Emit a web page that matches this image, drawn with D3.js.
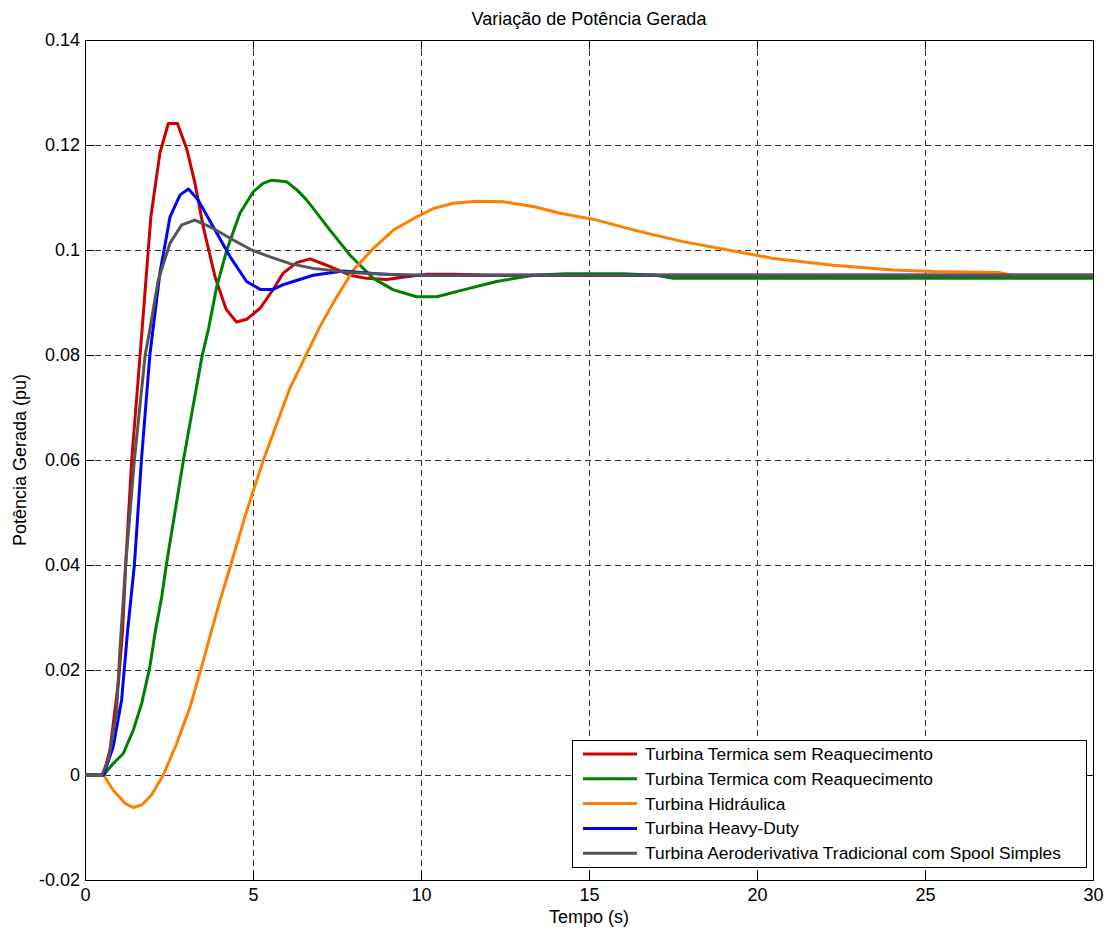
<!DOCTYPE html>
<html>
<head>
<meta charset="utf-8">
<script src="https://cdn.jsdelivr.net/npm/d3@7"></script>
<style>
  html, body { margin: 0; padding: 0; background: #fff; }
  svg { display: block; font-family: "Liberation Sans", Arial, sans-serif; }
</style>
</head>
<body>
<svg id="chart" width="1110" height="932"></svg>
<script>
// ---------- data ----------
const xTicks = [0, 5, 10, 15, 20, 25, 30];
const xTickLabels = ["0", "5", "10", "15", "20", "25", "30"];
const yTicks = [-0.02, 0, 0.02, 0.04, 0.06, 0.08, 0.1, 0.12, 0.14];
const yTickLabels = ["-0.02", "0", "0.02", "0.04", "0.06", "0.08", "0.1", "0.12", "0.14"];

const seriesNames = [
  "Turbina Termica sem Reaquecimento",
  "Turbina Termica com Reaquecimento",
  "Turbina Hidráulica",
  "Turbina Heavy-Duty",
  "Turbina Aeroderivativa Tradicional com Spool Simples"
];
const seriesColors = ["#cc0000", "#008000", "#ff8000", "#0000ff", "#555555"];

const tRed = [0,0.55,0.75,1.0,1.12,1.21,1.39,1.64,1.96,2.23,2.48,2.75,3.03,3.27,3.52,3.87,4.2,4.51,4.81,5.21,5.56,5.9,6.3,6.7,7.19,7.89,8.38,8.97,9.57,10.17,11,12,30];
const pRed = [0,0,0.005,0.018,0.0276,0.04,0.06,0.08,0.1063,0.1185,0.1241,0.1241,0.1192,0.1128,0.1044,0.0949,0.0887,0.0863,0.0868,0.0889,0.0921,0.0956,0.0976,0.0983,0.0971,0.0952,0.0946,0.0944,0.0949,0.0954,0.0954,0.0952,0.0952];

const tGreen = [0,0.55,0.84,1.14,1.44,1.69,1.93,2.1,2.28,2.42,2.93,3.49,3.67,3.92,4.22,4.61,5.01,5.3,5.56,6.0,6.3,6.6,7.0,7.29,7.89,8.58,9.18,9.87,10.47,11.26,12.25,13.34,14.33,16,17,17.5,30];
const pGreen = [0,0,0.0022,0.0041,0.0086,0.0137,0.0206,0.0276,0.0338,0.04,0.06,0.08,0.0848,0.093,0.1,0.107,0.1111,0.1127,0.1133,0.113,0.1115,0.1095,0.1062,0.1038,0.099,0.0946,0.0924,0.0911,0.0911,0.0924,0.094,0.0952,0.0955,0.0955,0.0952,0.0946,0.0946];

const tOrange = [0,0.55,0.84,1.19,1.44,1.69,1.98,2.33,2.73,3.13,3.47,3.77,4.02,4.34,4.76,5.31,6.1,6.58,7.0,7.44,7.99,8.58,9.18,9.87,10.37,10.96,11.65,12.45,13.34,14.14,15.23,16.52,17.8,19.3,20.49,22.27,24.06,25.25,27.2,27.6,30];
const pOrange = [0,0,-0.0029,-0.0054,-0.0062,-0.0057,-0.0038,0,0.006,0.013,0.0206,0.0276,0.0333,0.04,0.0492,0.06,0.0737,0.08,0.0855,0.0905,0.0962,0.1003,0.1038,0.1063,0.1079,0.1089,0.1093,0.1092,0.1083,0.107,0.1057,0.1035,0.1016,0.0998,0.0984,0.0971,0.0962,0.0959,0.0957,0.0952,0.0952];

const tBlue = [0,0.55,0.84,1.09,1.27,1.47,1.68,1.93,2.23,2.53,2.83,3.08,3.37,3.82,4.32,4.81,5.21,5.6,5.9,6.2,6.79,7.69,8.68,9.5,30];
const pBlue = [0,0,0.0054,0.0143,0.0276,0.04,0.06,0.08,0.0956,0.1063,0.1105,0.1116,0.1095,0.1044,0.0987,0.094,0.0925,0.0925,0.0934,0.094,0.0952,0.096,0.0955,0.0952,0.0952];

const tGray = [0,0.5,0.7,0.94,1.04,1.21,1.47,1.79,1.93,2.18,2.53,2.88,3.27,3.82,4.41,4.96,5.51,6.1,6.79,7.89,8.88,10,30];
const pGray = [0,0,0.003,0.012,0.024,0.04,0.06,0.08,0.0848,0.0943,0.1013,0.1048,0.1057,0.1041,0.1019,0.1,0.0987,0.0974,0.0965,0.0957,0.0954,0.0952,0.0952];

const seriesT = [tRed, tGreen, tOrange, tBlue, tGray];
const seriesP = [pRed, pGreen, pOrange, pBlue, pGray];

// ---------- layout ----------
const svg = d3.select("#chart");
const L = 85, R = 1093, T = 40, B = 880;
const x = d3.scaleLinear().domain([0, 30]).range([L, R]);
const y = d3.scaleLinear().domain([-0.02, 0.14]).range([B, T]);
const FS = 18;

// grid
const grid = svg.append("g");
grid.selectAll("line.gx").data(xTicks.slice(1, -1)).enter().append("line")
  .attr("x1", d => Math.round(x(d)) + 0.5).attr("x2", d => Math.round(x(d)) + 0.5)
  .attr("y1", T).attr("y2", B)
  .attr("stroke", "#333").attr("stroke-width", 1).attr("stroke-dasharray", "6,4");
grid.selectAll("line.gy").data(yTicks.slice(1, -1)).enter().append("line")
  .attr("y1", d => Math.round(y(d)) + 0.5).attr("y2", d => Math.round(y(d)) + 0.5)
  .attr("x1", L).attr("x2", R)
  .attr("stroke", "#333").attr("stroke-width", 1).attr("stroke-dasharray", "6,4");

// axes (ticks inward)
const fmtX = (d, i) => xTickLabels[i];
const fmtY = (d, i) => yTickLabels[i];
const axB = svg.append("g").attr("transform", `translate(0,${B})`)
  .call(d3.axisBottom(x).tickValues(xTicks).tickFormat(fmtX).tickSizeInner(-9).tickSizeOuter(0).tickPadding(8));
const axT = svg.append("g").attr("transform", `translate(0,${T})`)
  .call(d3.axisTop(x).tickValues(xTicks).tickFormat("").tickSizeInner(-9).tickSizeOuter(0));
const axL = svg.append("g").attr("transform", `translate(${L},0)`)
  .call(d3.axisLeft(y).tickValues(yTicks).tickFormat(fmtY).tickSizeInner(-9).tickSizeOuter(0).tickPadding(5));
const axRt = svg.append("g").attr("transform", `translate(${R},0)`)
  .call(d3.axisRight(y).tickValues(yTicks).tickFormat("").tickSizeInner(-9).tickSizeOuter(0));
[axB, axT, axL, axRt].forEach(a => {
  a.select(".domain").remove();
  a.selectAll(".tick line").attr("stroke", "#000");
  a.selectAll("text").attr("font-family", "Liberation Sans, Arial, sans-serif")
    .attr("font-size", FS).attr("fill", "#000");
});

// frame
svg.append("rect").attr("x", L + 0.5).attr("y", T + 0.5).attr("width", R - L).attr("height", B - T)
  .attr("fill", "none").attr("stroke", "#000").attr("stroke-width", 1);

// lines
const line = d3.line().x(d => x(d[0])).y(d => y(d[1]));
seriesT.forEach((ts, k) => {
  const pts = ts.map((t, i) => [t, seriesP[k][i]]);
  svg.append("path").datum(pts).attr("d", line)
    .attr("fill", "none").attr("stroke", seriesColors[k])
    .attr("stroke-width", 3).attr("stroke-linejoin", "round");
});

// title & labels
svg.append("text").attr("x", (L + R) / 2).attr("y", 25).attr("text-anchor", "middle")
  .attr("font-size", 18).text("Variação de Potência Gerada");
svg.append("text").attr("x", (L + R) / 2).attr("y", 923).attr("text-anchor", "middle")
  .attr("font-size", FS).text("Tempo (s)");
svg.append("text").attr("transform", "translate(26,460) rotate(-90)").attr("text-anchor", "middle")
  .attr("font-size", FS).text("Potência Gerada (pu)");

// legend
const lg = svg.append("g");
lg.append("rect").attr("x", 572.5).attr("y", 740.5).attr("width", 514).attr("height", 127)
  .attr("fill", "#fff").attr("stroke", "#000").attr("stroke-width", 1);
seriesNames.forEach((name, i) => {
  const yy = 754 + i * 24.8;
  lg.append("line").attr("x1", 583).attr("x2", 637).attr("y1", yy).attr("y2", yy)
    .attr("stroke", seriesColors[i]).attr("stroke-width", 3);
  lg.append("text").attr("x", 645).attr("y", yy).attr("dy", "0.35em")
    .attr("font-size", 17.4).text(name);
});
</script>
</body>
</html>
